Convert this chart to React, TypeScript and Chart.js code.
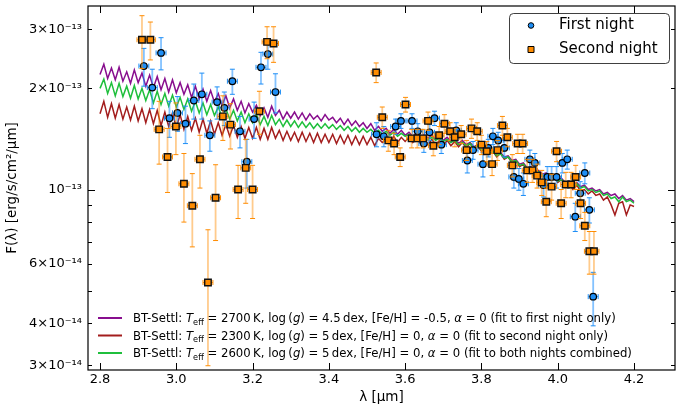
import { useEffect, useRef } from 'react';
import { Chart, registerables } from 'chart.js';

Chart.register(...registerables);

// ---------- data (flux values in units of 1e-13 erg/s/cm^2/um) ----------
const SCALE = 1e-13;
const X_ERR = 0.013;

const night1X = [2.915, 2.937, 2.960, 2.982, 3.003, 3.024, 3.046, 3.067, 3.088, 3.107, 3.126, 3.147, 3.167, 3.185, 3.204, 3.222, 3.240, 3.260,
  3.525, 3.544, 3.575, 3.589, 3.618, 3.633, 3.649, 3.664, 3.677, 3.695, 3.734, 3.763, 3.778, 3.804, 3.818, 3.830, 3.844, 3.860, 3.885, 3.898,
  3.910, 3.927, 3.940, 3.963, 3.973, 3.984, 3.997, 4.012, 4.025, 4.046, 4.059, 4.071, 4.083, 4.093];
const night1Y = [2.33, 2.01, 2.55, 1.63, 1.69, 1.57, 1.84, 1.92, 1.45, 1.82, 1.75, 2.10, 1.49, 1.21, 1.62, 2.31, 2.53, 1.95,
  1.46, 1.44, 1.54, 1.60, 1.60, 1.49, 1.37, 1.48, 1.63, 1.36, 1.50, 1.22, 1.31, 1.19, 1.33, 1.44, 1.40, 1.33, 1.09, 1.075,
  1.04, 1.23, 1.20, 1.03, 1.09, 1.09, 1.09, 1.20, 1.23, 0.83, 0.975, 1.12, 0.87, 0.48];
const night1Err = [0.30, 0.27, 0.28, 0.20, 0.20, 0.20, 0.22, 0.30, 0.15, 0.20, 0.20, 0.18, 0.16, 0.20, 0.20, 0.25, 0.25, 0.26,
  0.12, 0.10, 0.08, 0.08, 0.08, 0.08, 0.08, 0.08, 0.08, 0.08, 0.08, 0.10, 0.08, 0.10, 0.08, 0.08, 0.08, 0.08, 0.08, 0.08,
  0.08, 0.08, 0.08, 0.08, 0.08, 0.08, 0.08, 0.08, 0.08, 0.08, 0.08, 0.08, 0.075, 0.087];

const night2X = [2.910, 2.932, 2.955, 2.977, 2.999, 3.020, 3.042, 3.062, 3.083, 3.103, 3.122, 3.142, 3.162, 3.182, 3.200, 3.218, 3.238, 3.255,
  3.524, 3.540, 3.556, 3.571, 3.587, 3.601, 3.617, 3.632, 3.647, 3.660, 3.674, 3.689, 3.703, 3.718, 3.730, 3.747, 3.761, 3.774, 3.789, 3.800,
  3.814, 3.828, 3.842, 3.855, 3.868, 3.881, 3.895, 3.908, 3.920, 3.934, 3.946, 3.958, 3.970, 3.984, 3.997, 4.009, 4.021, 4.035, 4.047, 4.060,
  4.071, 4.083, 4.095];
const night2Y = [2.79, 2.79, 1.51, 1.25, 1.54, 1.04, 0.895, 1.23, 0.529, 0.945, 1.65, 1.56, 1.00, 1.16, 1.00, 1.71, 2.75, 2.72,
  2.23, 1.64, 1.40, 1.37, 1.25, 1.79, 1.42, 1.42, 1.42, 1.60, 1.35, 1.45, 1.57, 1.49, 1.43, 1.46, 1.31, 1.52, 1.49, 1.36,
  1.30, 1.19, 1.31, 1.55, 1.43, 1.18, 1.37, 1.37, 1.14, 1.14, 1.10, 1.05, 0.92, 1.02, 1.30, 0.91, 1.035, 1.035, 1.09, 0.91,
  0.78, 0.655, 0.655];
const night2Err = [0.50, 0.36, 0.32, 0.27, 0.27, 0.24, 0.22, 0.22, 0.23, 0.24, 0.25, 0.24, 0.18, 0.25, 0.18, 0.25, 0.30, 0.33,
  0.15, 0.12, 0.10, 0.10, 0.08, 0.09, 0.09, 0.09, 0.09, 0.10, 0.09, 0.09, 0.10, 0.09, 0.09, 0.09, 0.09, 0.10, 0.09, 0.09,
  0.09, 0.09, 0.09, 0.10, 0.09, 0.09, 0.09, 0.09, 0.09, 0.09, 0.09, 0.09, 0.09, 0.09, 0.09, 0.09, 0.09, 0.09, 0.09, 0.09,
  0.075, 0.095, 0.095];

const modelWave = [
  2.80, 2.81, 2.82, 2.83, 2.84, 2.85, 2.86, 2.87, 2.88, 2.89,
  2.90, 2.91, 2.92, 2.93, 2.94, 2.95, 2.96, 2.97, 2.98, 2.99,
  3.00, 3.01, 3.02, 3.03, 3.04, 3.05, 3.06, 3.07, 3.08, 3.09,
  3.10, 3.11, 3.12, 3.13, 3.14, 3.15, 3.16, 3.17, 3.18, 3.19,
  3.20, 3.21, 3.22, 3.23, 3.24, 3.25, 3.26, 3.27, 3.28, 3.29,
  3.30, 3.31, 3.32, 3.33, 3.34, 3.35, 3.36, 3.37, 3.38, 3.39,
  3.40, 3.41, 3.42, 3.43, 3.44, 3.45, 3.46, 3.47, 3.48, 3.49,
  3.50, 3.51, 3.52, 3.53, 3.54, 3.55, 3.56, 3.57, 3.58, 3.59,
  3.60, 3.61, 3.62, 3.63, 3.64, 3.65, 3.66, 3.67, 3.68, 3.69,
  3.70, 3.71, 3.72, 3.73, 3.74, 3.75, 3.76, 3.77, 3.78, 3.79,
  3.80, 3.81, 3.82, 3.83, 3.84, 3.85, 3.86, 3.87, 3.88, 3.89,
  3.90, 3.91, 3.92, 3.93, 3.94, 3.95, 3.96, 3.97, 3.98, 3.99,
  4.00, 4.01, 4.02, 4.03, 4.04, 4.05, 4.06, 4.07, 4.08, 4.09,
  4.10, 4.11, 4.12, 4.13, 4.14, 4.15, 4.16, 4.17, 4.18, 4.19,
  4.20];

const model2700 = [
  2.20, 2.36, 2.14, 2.30, 2.12, 2.31, 2.10, 2.24, 2.07, 2.27,
  2.08, 2.22, 2.03, 2.19, 2.01, 2.17, 1.98, 2.14, 1.95, 2.12,
  1.94, 2.08, 1.92, 2.05, 1.88, 2.03, 1.86, 1.99, 1.83, 1.97,
  1.82, 1.93, 1.78, 1.90, 1.75, 1.86, 1.72, 1.83, 1.69, 1.80,
  1.70, 1.78, 1.66, 1.75, 1.64, 1.77, 1.66, 1.72, 1.62, 1.70,
  1.63, 1.70, 1.62, 1.69, 1.61, 1.68, 1.62, 1.66, 1.60, 1.67,
  1.61, 1.64, 1.58, 1.63, 1.56, 1.62, 1.55, 1.60, 1.54, 1.58,
  1.52, 1.57, 1.50, 1.54, 1.49, 1.52, 1.47, 1.51, 1.46, 1.50,
  1.45, 1.48, 1.44, 1.47, 1.43, 1.46, 1.42, 1.45, 1.41, 1.44,
  1.40, 1.43, 1.39, 1.41, 1.37, 1.40, 1.36, 1.38, 1.34, 1.36,
  1.32, 1.34, 1.30, 1.31, 1.27, 1.29, 1.25, 1.26, 1.22, 1.23,
  1.19, 1.20, 1.16, 1.17, 1.13, 1.14, 1.11, 1.12, 1.09, 1.10,
  1.07, 1.08, 1.05, 1.06, 1.03, 1.05, 1.02, 1.03, 1.00, 1.01,
  0.99, 1.00, 0.97, 0.98, 0.96, 0.97, 0.94, 0.96, 0.93, 0.94,
  0.92];

const model2300 = [
  1.68, 1.83, 1.64, 1.80, 1.63, 1.79, 1.62, 1.76, 1.61, 1.77,
  1.60, 1.74, 1.58, 1.73, 1.57, 1.72, 1.55, 1.70, 1.54, 1.69,
  1.53, 1.67, 1.51, 1.65, 1.50, 1.63, 1.48, 1.62, 1.47, 1.60,
  1.46, 1.58, 1.45, 1.56, 1.44, 1.55, 1.43, 1.54, 1.42, 1.53,
  1.42, 1.53, 1.41, 1.52, 1.41, 1.53, 1.42, 1.50, 1.40, 1.49,
  1.40, 1.48, 1.39, 1.48, 1.39, 1.47, 1.38, 1.47, 1.38, 1.46,
  1.38, 1.46, 1.37, 1.45, 1.37, 1.45, 1.36, 1.44, 1.36, 1.44,
  1.36, 1.43, 1.35, 1.42, 1.38, 1.41, 1.37, 1.44, 1.38, 1.43,
  1.39, 1.43, 1.38, 1.42, 1.37, 1.42, 1.36, 1.41, 1.36, 1.40,
  1.35, 1.40, 1.35, 1.39, 1.34, 1.38, 1.33, 1.37, 1.32, 1.35,
  1.30, 1.33, 1.28, 1.30, 1.25, 1.28, 1.23, 1.25, 1.20, 1.22,
  1.17, 1.19, 1.14, 1.16, 1.11, 1.13, 1.09, 1.11, 1.07, 1.09,
  1.05, 1.07, 1.03, 1.04, 1.00, 1.03, 0.99, 1.00, 0.97, 0.99,
  0.96, 0.97, 0.93, 0.95, 0.90, 0.84, 0.91, 0.92, 0.84, 0.90,
  0.89];

const model2600 = [
  2.00, 2.13, 1.93, 2.08, 1.90, 2.07, 1.89, 2.03, 1.87, 2.04,
  1.86, 2.00, 1.84, 1.98, 1.81, 1.96, 1.79, 1.93, 1.77, 1.91,
  1.76, 1.88, 1.73, 1.86, 1.71, 1.83, 1.69, 1.81, 1.67, 1.79,
  1.66, 1.76, 1.64, 1.74, 1.62, 1.72, 1.60, 1.70, 1.58, 1.68,
  1.58, 1.67, 1.56, 1.65, 1.55, 1.66, 1.56, 1.62, 1.54, 1.61,
  1.54, 1.60, 1.53, 1.59, 1.53, 1.58, 1.52, 1.57, 1.52, 1.57,
  1.52, 1.56, 1.51, 1.55, 1.50, 1.54, 1.49, 1.53, 1.48, 1.52,
  1.48, 1.51, 1.47, 1.50, 1.46, 1.49, 1.45, 1.48, 1.44, 1.47,
  1.44, 1.46, 1.43, 1.45, 1.42, 1.44, 1.41, 1.43, 1.40, 1.42,
  1.39, 1.41, 1.38, 1.40, 1.36, 1.38, 1.35, 1.37, 1.33, 1.35,
  1.31, 1.33, 1.29, 1.30, 1.26, 1.28, 1.24, 1.25, 1.21, 1.22,
  1.18, 1.19, 1.15, 1.16, 1.12, 1.13, 1.10, 1.11, 1.08, 1.09,
  1.06, 1.07, 1.04, 1.05, 1.02, 1.04, 1.01, 1.02, 0.99, 1.00,
  0.98, 0.99, 0.96, 0.97, 0.94, 0.95, 0.92, 0.95, 0.92, 0.93,
  0.91];

const xTickValues = [2.8, 3.0, 3.2, 3.4, 3.6, 3.8, 4.0, 4.2];
const yTickValues = [3e-14, 4e-14, 5e-14, 6e-14, 7e-14, 8e-14, 9e-14, 1e-13, 2e-13, 3e-13];
const yTickLabels = ['3×10⁻¹⁴', '4×10⁻¹⁴', '', '6×10⁻¹⁴', '', '', '', '10⁻¹³', '2×10⁻¹³', '3×10⁻¹³'];
const yMajorIndex = 7;

const seriesLabels = ['First night', 'Second night'];
const modelLabels = [
  'BT-Settl: Teff = 2700 K, log (g) = 4.5 dex, [Fe/H] = -0.5, α = 0 (fit to first night only)',
  'BT-Settl: Teff = 2300 K, log (g) = 5 dex, [Fe/H] = 0, α = 0 (fit to second night only)',
  'BT-Settl: Teff = 2600 K, log (g) = 5 dex, [Fe/H] = 0, α = 0 (fit to both nights combined)',
];
// rich-text pieces of the model legend: n = normal, i = italic, s = subscript
const modelLegendRich: [string, string][][] = [
  [['BT-Settl: ', 'n'], ['T', 'i'], ['eff', 's'], [' = 2700\u2009K, log\u2009(', 'n'], ['g', 'i'], [') = 4.5\u2009dex, [Fe/H] = -0.5, ', 'n'], ['α', 'i'], [' = 0 (fit to first night only)', 'n']],
  [['BT-Settl: ', 'n'], ['T', 'i'], ['eff', 's'], [' = 2300\u2009K, log\u2009(', 'n'], ['g', 'i'], [') = 5\u2009dex, [Fe/H] = 0, ', 'n'], ['α', 'i'], [' = 0 (fit to second night only)', 'n']],
  [['BT-Settl: ', 'n'], ['T', 'i'], ['eff', 's'], [' = 2600\u2009K, log\u2009(', 'n'], ['g', 'i'], [') = 5\u2009dex, [Fe/H] = 0, ', 'n'], ['α', 'i'], [' = 0 (fit to both nights combined)', 'n']],
];

// ---------- style ----------
const FONT = "'DejaVu Sans', sans-serif";
const BLUE = '#1e8ef5';
const BLUE_BAR = 'rgba(30,144,255,0.55)';
const ORANGE = '#ff8c00';
const ORANGE_BAR = 'rgba(255,140,0,0.45)';
const PURPLE = '#880e8e';
const RED = '#a31d1d';
const GREEN = '#1fbf3c';
const MODEL_COLORS = [PURPLE, RED, GREEN];

const X_MIN = 2.7685;
const X_MAX = 4.3075;
const Y_MIN = 2.904e-14;
const Y_MAX = 3.516e-13;

function drawErrorBars(chart: any, xs: number[], ys: number[], errs: number[], barColor: string, capColor: string) {
  const ctx = chart.ctx;
  const xS = chart.scales.x;
  const yS = chart.scales.y;
  const a = chart.chartArea;
  ctx.save();
  ctx.beginPath();
  ctx.rect(a.left, a.top, a.right - a.left, a.bottom - a.top);
  ctx.clip();
  for (let i = 0; i < xs.length; i++) {
    const px = xS.getPixelForValue(xs[i]);
    const py = yS.getPixelForValue(ys[i] * SCALE);
    const pt = yS.getPixelForValue((ys[i] + errs[i]) * SCALE);
    const pb = yS.getPixelForValue(Math.max(ys[i] - errs[i], 0.01) * SCALE);
    const pl = xS.getPixelForValue(xs[i] - X_ERR);
    const pr = xS.getPixelForValue(xs[i] + X_ERR);
    ctx.strokeStyle = barColor;
    ctx.lineWidth = 1.8;
    ctx.beginPath();
    ctx.moveTo(px, pt);
    ctx.lineTo(px, pb);
    ctx.stroke();
    ctx.strokeStyle = capColor;
    ctx.lineWidth = 1;
    ctx.beginPath();
    ctx.moveTo(pl, py); ctx.lineTo(pr, py);
    ctx.moveTo(px - 2.5, pt); ctx.lineTo(px + 2.5, pt);
    ctx.moveTo(px - 2.5, pb); ctx.lineTo(px + 2.5, pb);
    ctx.moveTo(pl, py - 2.5); ctx.lineTo(pl, py + 2.5);
    ctx.moveTo(pr, py - 2.5); ctx.lineTo(pr, py + 2.5);
    ctx.stroke();
  }
  ctx.restore();
}

const decorPlugin = {
  id: 'decor',
  beforeDatasetDraw(chart: any, args: any) {
    if (args.index === 3) drawErrorBars(chart, night1X, night1Y, night1Err, BLUE_BAR, BLUE);
    if (args.index === 4) drawErrorBars(chart, night2X, night2Y, night2Err, ORANGE_BAR, ORANGE);
  },
  afterDraw(chart: any) {
    const ctx = chart.ctx;
    const a = chart.chartArea;
    const xS = chart.scales.x;
    const yS = chart.scales.y;
    ctx.save();
    // ticks (inward, all four sides)
    ctx.strokeStyle = '#000';
    ctx.lineWidth = 1;
    ctx.beginPath();
    xTickValues.forEach((v) => {
      const px = Math.round(xS.getPixelForValue(v)) + 0.5;
      ctx.moveTo(px, a.bottom); ctx.lineTo(px, a.bottom - 7);
      ctx.moveTo(px, a.top); ctx.lineTo(px, a.top + 7);
    });
    yTickValues.forEach((v, i) => {
      const py = Math.round(yS.getPixelForValue(v)) + 0.5;
      const len = i === yMajorIndex ? 7 : 4;
      ctx.moveTo(a.left, py); ctx.lineTo(a.left + len, py);
      ctx.moveTo(a.right, py); ctx.lineTo(a.right - len, py);
    });
    ctx.stroke();
    // frame
    ctx.lineWidth = 1.2;
    ctx.strokeRect(a.left, a.top, a.right - a.left, a.bottom - a.top);

    // data legend (top right)
    const bx = 509.5, by = 13.5, bw = 160, bh = 50;
    ctx.beginPath();
    ctx.roundRect(bx, by, bw, bh, 4);
    ctx.fillStyle = 'rgba(255,255,255,0.9)';
    ctx.fill();
    ctx.strokeStyle = 'rgba(0,0,0,0.75)';
    ctx.lineWidth = 1;
    ctx.stroke();
    ctx.beginPath();
    ctx.arc(531, 25.5, 2.8, 0, Math.PI * 2);
    ctx.fillStyle = BLUE; ctx.fill();
    ctx.strokeStyle = '#000'; ctx.lineWidth = 1; ctx.stroke();
    ctx.beginPath();
    ctx.rect(528, 46.5, 6, 6);
    ctx.fillStyle = ORANGE; ctx.fill(); ctx.stroke();
    ctx.fillStyle = '#000';
    ctx.font = `15px ${FONT}`;
    ctx.textBaseline = 'middle';
    ctx.textAlign = 'left';
    ctx.fillText(chart.data.datasets[3].label, 559, 25.5);
    ctx.fillText(chart.data.datasets[4].label, 559, 49.5);

    // model legend (bottom left)
    const rowsY = [318, 335.5, 353];
    const fs = 11.7;
    modelLegendRich.forEach((row, r) => {
      const y = rowsY[r];
      ctx.strokeStyle = MODEL_COLORS[r];
      ctx.lineWidth = 2;
      ctx.beginPath();
      ctx.moveTo(98, y); ctx.lineTo(122, y);
      ctx.stroke();
      let x = 133;
      ctx.textBaseline = 'alphabetic';
      ctx.fillStyle = '#000';
      row.forEach(([t, k]) => {
        if (k === 'i') ctx.font = `italic ${fs}px ${FONT}`;
        else if (k === 's') ctx.font = `${fs * 0.7}px ${FONT}`;
        else ctx.font = `${fs}px ${FONT}`;
        const base = y + 4.3 + (k === 's' ? 2.6 : 0);
        ctx.fillText(t, x, base);
        x += ctx.measureText(t).width;
      });
    });
    ctx.restore();
  },
};

export default function App() {
  const ref = useRef<HTMLCanvasElement>(null);
  useEffect(() => {
    document.body.style.margin = '0';
    const canvas = ref.current;
    if (!canvas) return;
    const modelSets = [model2700, model2300, model2600].map((vals, k) => ({
      type: 'line' as const,
      label: modelLabels[k],
      data: modelWave.map((x, i) => ({ x, y: vals[i] * SCALE })),
      borderColor: MODEL_COLORS[k],
      backgroundColor: MODEL_COLORS[k],
      borderWidth: 1.5,
      pointRadius: 0,
      fill: false,
      tension: 0,
      order: 5 - k,
    }));
    const chart = new Chart(canvas, {
      type: 'scatter',
      data: {
        datasets: [
          ...modelSets,
          {
            type: 'scatter',
            label: seriesLabels[0],
            data: night1X.map((x, i) => ({ x, y: night1Y[i] * SCALE })),
            pointStyle: 'circle',
            pointRadius: 3.3,
            backgroundColor: BLUE,
            borderColor: '#000',
            borderWidth: 1.2,
            order: 2,
          },
          {
            type: 'scatter',
            label: seriesLabels[1],
            data: night2X.map((x, i) => ({ x, y: night2Y[i] * SCALE })),
            pointStyle: 'rect',
            pointRadius: 4.6,
            backgroundColor: ORANGE,
            borderColor: '#111',
            borderWidth: 1.4,
            order: 1,
          },
        ] as any,
      },
      options: {
        animation: false,
        responsive: false,
        maintainAspectRatio: false,
        events: [],
        layout: { padding: { top: 5, right: 7, left: 0, bottom: 0 } },
        plugins: { legend: { display: false }, tooltip: { enabled: false } },
        scales: {
          x: {
            type: 'linear',
            position: 'bottom',
            min: X_MIN,
            max: X_MAX,
            afterBuildTicks: (s: any) => { s.ticks = xTickValues.map((v) => ({ value: v })); },
            afterFit: (s: any) => { s.height = 43; s.paddingLeft = 0; s.paddingRight = 0; },
            ticks: {
              callback: (v: any) => Number(v).toFixed(1),
              font: { family: FONT, size: 13 },
              color: '#000',
              padding: 2,
              autoSkip: false,
              maxRotation: 0,
            },
            grid: { display: false, drawTicks: false },
            border: { display: false },
            title: { display: true, text: 'λ [μm]', font: { family: FONT, size: 13.5 }, color: '#000', padding: { top: 0, bottom: 7 } },
          },
          y: {
            type: 'logarithmic',
            min: Y_MIN,
            max: Y_MAX,
            afterBuildTicks: (s: any) => { s.ticks = yTickValues.map((v) => ({ value: v })); },
            afterFit: (s: any) => { s.width = 88; s.paddingTop = 0; s.paddingBottom = 0; },
            ticks: {
              callback: (_v: any, i: number) => yTickLabels[i],
              font: { family: FONT, size: 13 },
              color: '#000',
              padding: 6,
              autoSkip: false,
            },
            grid: { display: false, drawTicks: false },
            border: { display: false },
            title: { display: true, text: 'F(λ) [erg/s/cm²/μm]', font: { family: FONT, size: 13.5 }, color: '#000', padding: { top: 4, bottom: 0 } },
          },
        },
      } as any,
      plugins: [decorPlugin],
    });
    return () => chart.destroy();
  }, []);
  return (
    <div style={{ width: 682, height: 413 }}>
      <canvas ref={ref} width={682} height={413} style={{ display: 'block', width: 682, height: 413 }} />
    </div>
  );
}
